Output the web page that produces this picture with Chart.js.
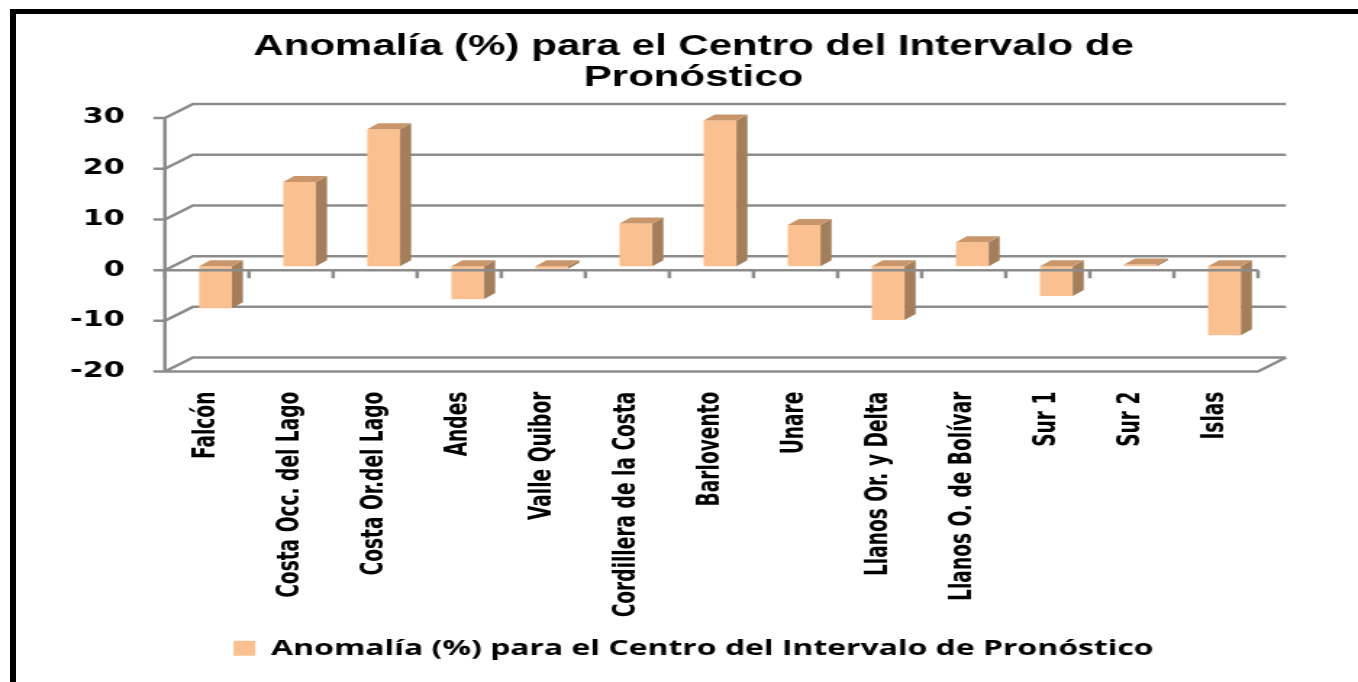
<!DOCTYPE html>
<html>
<head>
<meta charset="utf-8">
<script src="https://cdn.jsdelivr.net/npm/chart.js@4.4.1/dist/chart.umd.min.js"></script>
<style>
  html, body { margin: 0; padding: 0; background: #fff; overflow: hidden; }
  #anomChart { position: absolute; left: 0; top: 0; }
  #frame { position: absolute; left: 10px; top: 9px; width: 1400px; height: 700px;
           border-left: 6px solid #000; border-top: 5px solid #000; }
</style>
</head>
<body>
<canvas id="anomChart" width="937" height="682" style="width:1358px;height:682px"></canvas>
<div id="frame"></div>
<script>
const regiones = [
  "Falcón", "Costa Occ. del Lago", "Costa Or.del Lago", "Andes", "Valle Quibor",
  "Cordillera de la Costa", "Barlovento", "Unare", "Llanos Or. y Delta",
  "Llanos O. de Bolívar", "Sur 1", "Sur 2", "Islas"
];
const anomalia = [-8.3, 16.6, 27.0, -6.5, -0.5, 8.4, 28.7, 8.1, -10.6, 4.7, -5.9, 0.3, -13.6];
const yMin = -20;
const yMax = 30;
const yStep = 10;

const serieNombre = "Anomalía (%) para el Centro del Intervalo de Pronóstico";

// pseudo 3-D look: walls go back DEPTH px, columns sit a bit into that depth
const DEPTH_X = 19.3, DEPTH_Y = -14;
const BAR_SHIFT_X = 5.9, BAR_SHIFT_Y = -4;
const BAR_DX = 7.6, BAR_DY = -6;
const GRID = "#8c8c8c";
const FRONT = "#FAC090", SIDE = "#A27E5B", TOP = "#C9966C";

const walls3d = {
  id: "walls3d",
  beforeDatasetsDraw(chart) {
    const { ctx, chartArea: a, scales: { y } } = chart;
    ctx.save();
    ctx.strokeStyle = GRID;
    ctx.lineWidth = 2.5;
    ctx.beginPath();
    y.ticks.forEach(t => {
      const py = y.getPixelForValue(t.value);
      ctx.moveTo(a.left - 8, py);
      ctx.lineTo(a.left, py);
      ctx.lineTo(a.left + DEPTH_X, py + DEPTH_Y);
      ctx.lineTo(a.right + DEPTH_X, py + DEPTH_Y);
    });
    // front edge of the side wall and the floor
    ctx.moveTo(a.left, a.top);
    ctx.lineTo(a.left, a.bottom);
    ctx.lineTo(a.right, a.bottom);
    ctx.lineTo(a.right + DEPTH_X, a.bottom + DEPTH_Y);
    ctx.stroke();
    ctx.restore();

    ctx.save();
    ctx.translate(BAR_SHIFT_X, BAR_SHIFT_Y);
  },
  afterDatasetsDraw(chart) {
    const ctx = chart.ctx;
    chart.getDatasetMeta(0).data.forEach(bar => {
      const l = bar.x - bar.width / 2, r = bar.x + bar.width / 2;
      const top = Math.min(bar.y, bar.base), bot = Math.max(bar.y, bar.base);
      ctx.fillStyle = SIDE;
      ctx.beginPath();
      ctx.moveTo(r, top);
      ctx.lineTo(r + BAR_DX, top + BAR_DY);
      ctx.lineTo(r + BAR_DX, bot + BAR_DY);
      ctx.lineTo(r, bot);
      ctx.closePath();
      ctx.fill();
      ctx.fillStyle = TOP;
      ctx.beginPath();
      ctx.moveTo(l, top);
      ctx.lineTo(l + BAR_DX, top + BAR_DY);
      ctx.lineTo(r + BAR_DX, top + BAR_DY);
      ctx.lineTo(r, top);
      ctx.closePath();
      ctx.fill();
    });
    ctx.restore();

    // category axis runs in front of the columns
    const { chartArea: a, scales: { x, y } } = chart;
    const y0 = y.getPixelForValue(0);
    const step = x.width / chart.data.labels.length;
    ctx.save();
    ctx.strokeStyle = GRID;
    ctx.lineWidth = 2.5;
    ctx.beginPath();
    ctx.moveTo(a.left, y0);
    ctx.lineTo(a.right, y0);
    for (let i = 0; i <= chart.data.labels.length; i++) {
      const px = a.left + i * step;
      ctx.moveTo(px, y0);
      ctx.lineTo(px, y0 + 8);
    }
    ctx.stroke();
    ctx.restore();
  }
};

new Chart(document.getElementById("anomChart"), {
  type: "bar",
  data: {
    labels: regiones,
    datasets: [{
      label: serieNombre,
      data: anomalia,
      backgroundColor: FRONT,
      borderWidth: 0,
      barPercentage: 0.39,
      categoryPercentage: 1,
      clip: false
    }]
  },
  options: {
    responsive: false,
    animation: false,
    layout: { padding: { left: 20, right: 0, top: 20, bottom: 12.7 } },
    plugins: {
      title: {
        display: true,
        text: ["Anomalía (%) para el Centro del Intervalo de", "Pronóstico"],
        color: "#000",
        font: { family: "'Liberation Sans', Arial, sans-serif", weight: "bold", size: 29, lineHeight: 1.07 },
        padding: { top: 11.5, bottom: 24.4 }
      },
      legend: {
        position: "bottom",
        labels: {
          color: "#000",
          boxWidth: 15,
          boxHeight: 15,
          padding: 10,
          font: { family: "'Open Sans', sans-serif", weight: "bold", size: 22 }
        }
      },
      tooltip: { enabled: false }
    },
    scales: {
      x: {
        grid: { display: false, drawTicks: false },
        border: { display: false },
        ticks: {
          autoSkip: false,
          maxRotation: 90,
          minRotation: 90,
          padding: 20,
          color: "#000",
          font: { family: "'DejaVu Sans Condensed', 'DejaVu Sans', sans-serif", weight: "bold", size: 20.7 }
        },
        afterFit(s) { s.height = 255.7; }
      },
      y: {
        min: yMin,
        max: yMax,
        grid: { display: false, drawTicks: false },
        border: { display: false },
        ticks: {
          stepSize: yStep,
          padding: 27.6,
          color: "#000",
          font: { family: "'DejaVu Sans', sans-serif", weight: "bold", size: 21 }
        },
        afterFit(s) { s.width = 93.8; }
      },
      // empty strip on the right, leaves room for the back wall depth
      margen: {
        type: "linear",
        position: "right",
        grid: { display: false, drawTicks: false },
        border: { display: false },
        ticks: { display: false },
        afterFit(s) { s.width = 69; }
      }
    }
  },
  plugins: [walls3d]
});
</script>
</body>
</html>
